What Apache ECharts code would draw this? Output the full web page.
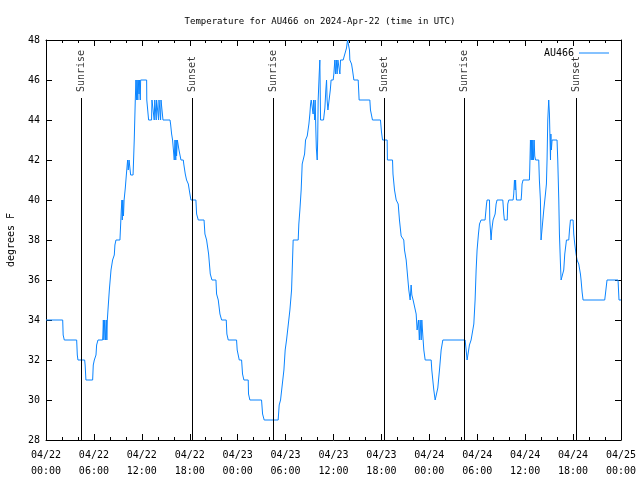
<!DOCTYPE html>
<html>
<head>
<meta charset="utf-8">
<script src="https://cdn.jsdelivr.net/npm/echarts@6/dist/echarts.min.js"></script>
<style>html,body{margin:0;padding:0;background:#fff}#c{width:640px;height:480px}</style>
</head>
<body>
<div id="c"></div>
<script>
// Hours since 2024-04-22 00:00 UTC and temperature (degrees F)
var tempHours = [0,2.09,2.15,2.29,3.84,3.92,4.0,4.84,4.9,5.0,5.84,5.92,6.05,6.26,6.34,6.51,7.09,7.12,7.18,7.25,7.35,7.45,7.55,7.62,7.68,7.76,7.93,8.14,8.34,8.55,8.63,8.76,9.26,9.43,9.51,9.55,9.62,9.7,9.78,9.93,10.06,10.22,10.3,10.4,10.55,10.6,10.9,10.95,11.05,11.18,11.26,11.35,11.4,11.5,11.55,11.65,11.7,11.8,11.85,12.6,12.62,12.85,13.22,13.27,13.5,13.55,13.62,13.8,13.85,14.1,14.15,14.35,14.4,14.6,14.65,15.53,15.6,15.73,15.85,16.0,16.06,16.15,16.25,16.3,16.35,16.45,16.6,16.65,16.9,17.19,17.25,17.44,17.6,17.82,18.02,18.15,18.77,18.86,19.07,19.79,19.9,20.11,20.36,20.57,20.78,21.28,21.36,21.57,21.78,21.99,22.57,22.65,22.82,23.86,23.94,24.2,24.49,24.61,24.78,25.32,25.36,25.53,26.99,27.12,27.32,29.07,29.2,29.37,29.58,29.79,29.95,30.12,30.33,30.54,30.75,30.87,30.95,31.58,31.66,31.79,31.95,32.08,32.2,32.38,32.5,32.71,32.92,33.04,33.13,33.21,33.4,33.45,33.5,33.62,33.65,33.7,33.79,33.85,33.96,34.02,34.08,34.21,34.29,34.38,34.75,34.92,35.04,35.13,35.2,35.3,35.45,35.6,35.7,35.96,36.04,36.17,36.25,36.35,36.45,36.55,36.7,36.8,36.88,37.21,37.42,37.63,37.76,37.96,38.0,38.05,38.26,38.38,38.55,39.09,39.15,39.21,40.55,40.63,40.88,41.88,42.01,42.14,42.72,42.75,43.39,43.45,43.64,43.85,44.05,44.1,44.26,44.47,44.8,44.89,45.1,45.31,45.43,45.6,45.72,45.81,45.97,46.22,46.35,46.47,46.64,46.75,46.85,46.98,47.06,47.18,47.31,47.48,48.23,48.31,48.56,48.73,48.98,49.06,49.27,49.48,49.69,52.48,52.61,52.73,52.98,53.02,53.23,53.44,53.57,53.73,53.86,53.98,54.15,54.28,54.48,54.98,55.16,55.23,55.53,55.57,55.73,55.82,55.98,56.15,56.24,56.36,56.48,57.2,57.32,57.4,57.75,57.82,57.95,58.49,58.57,58.66,58.75,58.8,58.91,59.49,59.55,59.61,59.74,60.53,60.57,60.66,60.75,60.8,60.9,60.95,61.05,61.12,61.2,61.3,61.7,61.78,61.91,61.99,62.24,62.33,62.54,62.66,62.74,62.83,62.95,63.04,63.17,63.22,63.28,63.37,63.99,64.08,64.21,64.29,64.42,64.5,64.75,64.83,64.96,65.17,65.46,65.55,65.67,66.0,66.08,66.21,66.37,66.5,66.71,66.92,67.0,67.13,67.25,69.96,70.05,70.25,71.63,71.75,72];
var tempValues = [34,34,33.25,33,33,32.25,32,32,31.75,31,31,31.75,32,32.25,32.75,33,33,33.25,34,33,34,33,34,33,34,34.5,35.5,36.5,37,37.25,37.75,38,38,39.5,40,39,40,39.2,40,40.6,41.25,42,41.5,42,42,41.25,41.25,41.8,43,45,46,45,46,45,46,45.3,46,45,46,46,45,44,44,45,45,44,45,44,45,44,45,44,45,45,44,44,43.8,43.3,43,43,42,43,42,43,42.2,43,43,42.5,42,42,41.8,41.3,41,40.8,40.3,40,40,39.3,39,39,38.3,38,37.3,36.3,36,36,35.3,35,34.3,34,34,33.3,33,33,32.5,32,32,31.3,31,31,30.3,30,30,29.3,29,29,29.75,30,30.75,31.5,32.5,33,33.75,34.5,35.5,37,38,38,38.8,39.5,40.5,41.8,42,42.3,43,43.2,43.8,44.3,44.8,45,45,44.3,45,45,44,45,43.5,42.6,42,43,45,46.3,47,44,44,44.6,45.5,46,45,44.5,45,45.5,46,46,46.3,47,46.3,47,46.3,47,47,46.3,47,47,47.3,47.6,48,48,47.5,47,46.8,46.5,46,46,45.5,45,45,44.5,44,44,43.4,43,43,42,42,41.3,40.5,40,40,39.8,39,38.2,38,37.5,37,37,35.5,35,35.75,35.25,35,35,34.3,33.5,34,33,34,33,34,33.25,32.5,32,32,31.5,30.5,30,30,30.6,31.5,32.5,33,33,32.5,32,32,32.75,33,33,33.8,35,36.5,37.5,38.3,38.8,39,39,39.8,40,40,39,38,38.5,39,39,39.3,39.8,40,40,39.3,39,39,39.8,40,40,40.3,41,40.5,41,40,40,40.3,40.8,41,41,41.5,43,42,43,42,43,42,43,42.2,42,42,41,40,38,38,39.5,40.3,40.8,42,44,45,44.3,42,43.3,42.5,43,43,42,40,38.3,36.8,36,36,36.5,37.3,38,38,38.5,39,39,38.3,37.8,37.3,37,36.8,36.3,36,35.4,35,35,35.3,36,36,35,35];
var eventHours = [4.42, 18.32, 28.47, 42.36, 52.38, 66.4];
var eventNames = ['Sunrise', 'Sunset', 'Sunrise', 'Sunset', 'Sunrise', 'Sunset'];
var xTickLabels = ['04/22\n00:00','04/22\n06:00','04/22\n12:00','04/22\n18:00','04/23\n00:00','04/23\n06:00','04/23\n12:00','04/23\n18:00','04/24\n00:00','04/24\n06:00','04/24\n12:00','04/24\n18:00','04/25\n00:00'];
var seriesName = 'AU466';

var FONT = 'DejaVu Sans Mono';
var tempData = tempHours.map(function (h, i) { return [h, tempValues[i]]; });
var eventData = eventHours.map(function (h, i) { return [h, 45.1, eventNames[i]]; });
var eventLines = eventHours.map(function (h) { return [{coord: [h, 28]}, {coord: [h, 45.1]}]; });

var chart = echarts.init(document.getElementById('c'), null, {renderer: 'canvas'});
var baseX = {
  type: 'value', min: 0, max: 72, interval: 6,
  axisLine: {show: true, onZero: false, lineStyle: {color: '#000', width: 1}},
  axisTick: {show: true, inside: true, length: 6, lineStyle: {color: '#000'}},
  minorTick: {show: true, splitNumber: 3, length: 3, lineStyle: {color: '#000'}},
  splitLine: {show: false}
};
var baseY = {
  type: 'value', min: 28, max: 48, interval: 2,
  axisLine: {show: true, onZero: false, lineStyle: {color: '#000', width: 1}},
  axisTick: {show: true, inside: true, length: 6, lineStyle: {color: '#000'}},
  splitLine: {show: false}
};
chart.setOption({
  animation: false,
  backgroundColor: '#fff',
  title: {
    text: 'Temperature for AU466 on 2024-Apr-22 (time in UTC)',
    left: 'center', top: 12,
    textStyle: {fontFamily: FONT, fontSize: 9, fontWeight: 'normal', color: '#000'}
  },
  legend: {
    data: [seriesName], right: 26, top: 43, align: 'right',
    itemWidth: 30, itemHeight: 1, icon: 'rect',
    textStyle: {fontFamily: FONT, fontSize: 10, color: '#000'}
  },
  grid: {left: 46, right: 19, top: 40, bottom: 40, containLabel: false, outerBoundsMode: 'none'},
  xAxis: [
    Object.assign({}, baseX, {
      position: 'bottom',
      axisLabel: {show: true, margin: 7, fontFamily: FONT, fontSize: 10, color: '#000', lineHeight: 16,
        formatter: function (v) { return xTickLabels[Math.round(v / 6)]; }}
    }),
    Object.assign({}, baseX, {position: 'top', axisLabel: {show: false}})
  ],
  yAxis: [
    Object.assign({}, baseY, {
      position: 'left',
      name: 'degrees F', nameLocation: 'middle', nameRotate: 90, nameGap: 30,
      nameTextStyle: {fontFamily: FONT, fontSize: 10, color: '#000'},
      axisLabel: {show: true, margin: 6, fontFamily: FONT, fontSize: 10, color: '#000'}
    }),
    Object.assign({}, baseY, {position: 'right', axisLabel: {show: false}})
  ],
  series: [
    {
      name: seriesName, type: 'line', data: tempData, showSymbol: false, symbol: 'none',
      lineStyle: {color: '#0a84ff', width: 1}, itemStyle: {color: '#0a84ff'},
      z: 3
    },
    {
      name: 'events', type: 'scatter', data: eventData, symbolSize: 0, silent: true,
      label: {
        show: true, formatter: function (p) { return p.data[2]; },
        position: 'top', distance: 6, rotate: 90, align: 'left', verticalAlign: 'middle',
        fontFamily: FONT, fontSize: 10, color: '#000'
      },
      markLine: {
        silent: true, symbol: ['none', 'none'], animation: false,
        label: {show: false},
        lineStyle: {color: '#000', width: 1, type: 'solid'},
        data: eventLines
      },
      z: 2
    }
  ]
});
</script>
</body>
</html>
